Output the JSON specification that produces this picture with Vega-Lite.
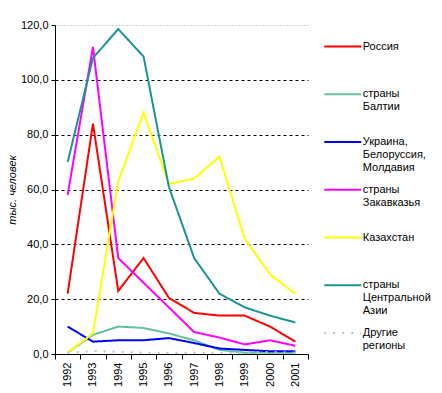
{
  "$schema": "https://vega.github.io/schema/vega-lite/v6.json",
  "autosize": {"type": "none"},
  "padding": {"left": 55, "top": 25, "right": 134, "bottom": 39},
  "width": 253,
  "height": 329,
  "background": "white",
  "config": {
    "font": "Liberation Sans",
    "view": {"stroke": null},
    "axis": {"labelFont": "Liberation Sans", "labelFontSize": 11, "labelColor": "black", "domainColor": "black", "tickColor": "black"}
  },
  "data": {
    "values": [
      {"year": "1992", "series": "Россия", "value": 22},
      {"year": "1993", "series": "Россия", "value": 84},
      {"year": "1994", "series": "Россия", "value": 23},
      {"year": "1995", "series": "Россия", "value": 35},
      {"year": "1996", "series": "Россия", "value": 20.5},
      {"year": "1997", "series": "Россия", "value": 15},
      {"year": "1998", "series": "Россия", "value": 14},
      {"year": "1999", "series": "Россия", "value": 14},
      {"year": "2000", "series": "Россия", "value": 10},
      {"year": "2001", "series": "Россия", "value": 4.5},
      {"year": "1992", "series": "страны|Балтии", "value": 0.5},
      {"year": "1993", "series": "страны|Балтии", "value": 7},
      {"year": "1994", "series": "страны|Балтии", "value": 10},
      {"year": "1995", "series": "страны|Балтии", "value": 9.5},
      {"year": "1996", "series": "страны|Балтии", "value": 7.5},
      {"year": "1997", "series": "страны|Балтии", "value": 5},
      {"year": "1998", "series": "страны|Балтии", "value": 1.5},
      {"year": "1999", "series": "страны|Балтии", "value": 0.5},
      {"year": "2000", "series": "страны|Балтии", "value": 0.5},
      {"year": "2001", "series": "страны|Балтии", "value": 0.5},
      {"year": "1992", "series": "Украина,|Белоруссия,|Молдавия", "value": 10},
      {"year": "1993", "series": "Украина,|Белоруссия,|Молдавия", "value": 4.5},
      {"year": "1994", "series": "Украина,|Белоруссия,|Молдавия", "value": 5},
      {"year": "1995", "series": "Украина,|Белоруссия,|Молдавия", "value": 5},
      {"year": "1996", "series": "Украина,|Белоруссия,|Молдавия", "value": 5.8},
      {"year": "1997", "series": "Украина,|Белоруссия,|Молдавия", "value": 4},
      {"year": "1998", "series": "Украина,|Белоруссия,|Молдавия", "value": 2},
      {"year": "1999", "series": "Украина,|Белоруссия,|Молдавия", "value": 1.5},
      {"year": "2000", "series": "Украина,|Белоруссия,|Молдавия", "value": 1},
      {"year": "2001", "series": "Украина,|Белоруссия,|Молдавия", "value": 1},
      {"year": "1992", "series": "страны|Закавказья", "value": 58},
      {"year": "1993", "series": "страны|Закавказья", "value": 112},
      {"year": "1994", "series": "страны|Закавказья", "value": 35},
      {"year": "1995", "series": "страны|Закавказья", "value": 26},
      {"year": "1996", "series": "страны|Закавказья", "value": 17},
      {"year": "1997", "series": "страны|Закавказья", "value": 8},
      {"year": "1998", "series": "страны|Закавказья", "value": 6},
      {"year": "1999", "series": "страны|Закавказья", "value": 3.5},
      {"year": "2000", "series": "страны|Закавказья", "value": 5},
      {"year": "2001", "series": "страны|Закавказья", "value": 3},
      {"year": "1992", "series": "Казахстан", "value": 0.5},
      {"year": "1993", "series": "Казахстан", "value": 7.5},
      {"year": "1994", "series": "Казахстан", "value": 63},
      {"year": "1995", "series": "Казахстан", "value": 88},
      {"year": "1996", "series": "Казахстан", "value": 62},
      {"year": "1997", "series": "Казахстан", "value": 64},
      {"year": "1998", "series": "Казахстан", "value": 72},
      {"year": "1999", "series": "Казахстан", "value": 42},
      {"year": "2000", "series": "Казахстан", "value": 29},
      {"year": "2001", "series": "Казахстан", "value": 22},
      {"year": "1992", "series": "страны|Центральной|Азии", "value": 70},
      {"year": "1993", "series": "страны|Центральной|Азии", "value": 108},
      {"year": "1994", "series": "страны|Центральной|Азии", "value": 118.5},
      {"year": "1995", "series": "страны|Центральной|Азии", "value": 108.5},
      {"year": "1996", "series": "страны|Центральной|Азии", "value": 61},
      {"year": "1997", "series": "страны|Центральной|Азии", "value": 35},
      {"year": "1998", "series": "страны|Центральной|Азии", "value": 22},
      {"year": "1999", "series": "страны|Центральной|Азии", "value": 17},
      {"year": "2000", "series": "страны|Центральной|Азии", "value": 14},
      {"year": "2001", "series": "страны|Центральной|Азии", "value": 11.5},
      {"year": "1992", "series": "Другие|регионы", "value": 0.5},
      {"year": "1993", "series": "Другие|регионы", "value": 1},
      {"year": "1994", "series": "Другие|регионы", "value": 0.8},
      {"year": "1995", "series": "Другие|регионы", "value": 0.5},
      {"year": "1996", "series": "Другие|регионы", "value": 0.5},
      {"year": "1997", "series": "Другие|регионы", "value": 0.5},
      {"year": "1998", "series": "Другие|регионы", "value": 0.5},
      {"year": "1999", "series": "Другие|регионы", "value": 0.5},
      {"year": "2000", "series": "Другие|регионы", "value": 0.8},
      {"year": "2001", "series": "Другие|регионы", "value": 0.5}
    ]
  },
  "mark": {"type": "line", "strokeWidth": 2},
  "encoding": {
    "x": {
      "field": "year", "type": "ordinal", "bandPosition": 0.5,
      "scale": {"type": "band", "paddingInner": 0, "paddingOuter": 0},
      "axis": {"title": null, "labelAngle": -90, "tickBand": "extent", "tickSize": 5, "labelPadding": 3, "grid": false}
    },
    "y": {
      "field": "value", "type": "quantitative",
      "scale": {"domain": [0, 120], "nice": false},
      "axis": {
        "title": "тыс. человек", "titleFont": "Liberation Sans", "titleFontSize": 11, "titleFontStyle": "italic", "titleFontWeight": "normal", "titleColor": "black", "titlePadding": 3,
        "values": [0, 20, 40, 60, 80, 100, 120],
        "labelExpr": "replace(format(datum.value, '.1f'), '.', ',')",
        "tickSize": 4, "labelPadding": 3,
        "grid": true,
        "gridColor": {"condition": {"test": "datum.value === 120", "value": "#aaaaaa"}, "value": "black"},
        "gridDash": {"condition": {"test": "datum.value === 120", "value": [1, 2]}, "value": [3, 3]}
      }
    },
    "color": {
      "field": "series", "type": "nominal",
      "scale": {
        "domain": ["Россия", "страны|Балтии", "Украина,|Белоруссия,|Молдавия", "страны|Закавказья", "Казахстан", "страны|Центральной|Азии", "Другие|регионы"],
        "range": ["#ff0000", "#66c09c", "#0000ff", "#ff00ff", "#ffff00", "#1a9494", "#c0c0c0"]
      },
      "legend": {
        "title": null, "orient": "none", "legendX": 268, "legendY": 11, "padding": 0,
        "symbolType": "M-2,0L2,0", "symbolSize": 342.25, "symbolStrokeWidth": 2, "symbolOffset": 9.25,
        "labelExpr": "slice(split(datum.label + '||', '|'), 0, 3)",
        "labelFont": "Liberation Sans", "labelFontSize": 11, "labelColor": "black", "labelBaseline": "middle",
        "labelOffset": 9.5, "labelLimit": 200, "rowPadding": 5.75
      }
    },
    "strokeDash": {
      "field": "series", "type": "nominal",
      "scale": {
        "domain": ["Россия", "страны|Балтии", "Украина,|Белоруссия,|Молдавия", "страны|Закавказья", "Казахстан", "страны|Центральной|Азии", "Другие|регионы"],
        "range": [[1, 0], [1, 0], [1, 0], [1, 0], [1, 0], [1, 0], [2, 7]]
      },
      "legend": {
        "title": null, "orient": "none", "legendX": 268, "legendY": 11, "padding": 0,
        "symbolType": "M-2,0L2,0", "symbolSize": 342.25, "symbolStrokeWidth": 2, "symbolOffset": 9.25,
        "labelExpr": "slice(split(datum.label + '||', '|'), 0, 3)",
        "labelFont": "Liberation Sans", "labelFontSize": 11, "labelColor": "black", "labelBaseline": "middle",
        "labelOffset": 9.5, "labelLimit": 200, "rowPadding": 5.75
      }
    }
  }
}
